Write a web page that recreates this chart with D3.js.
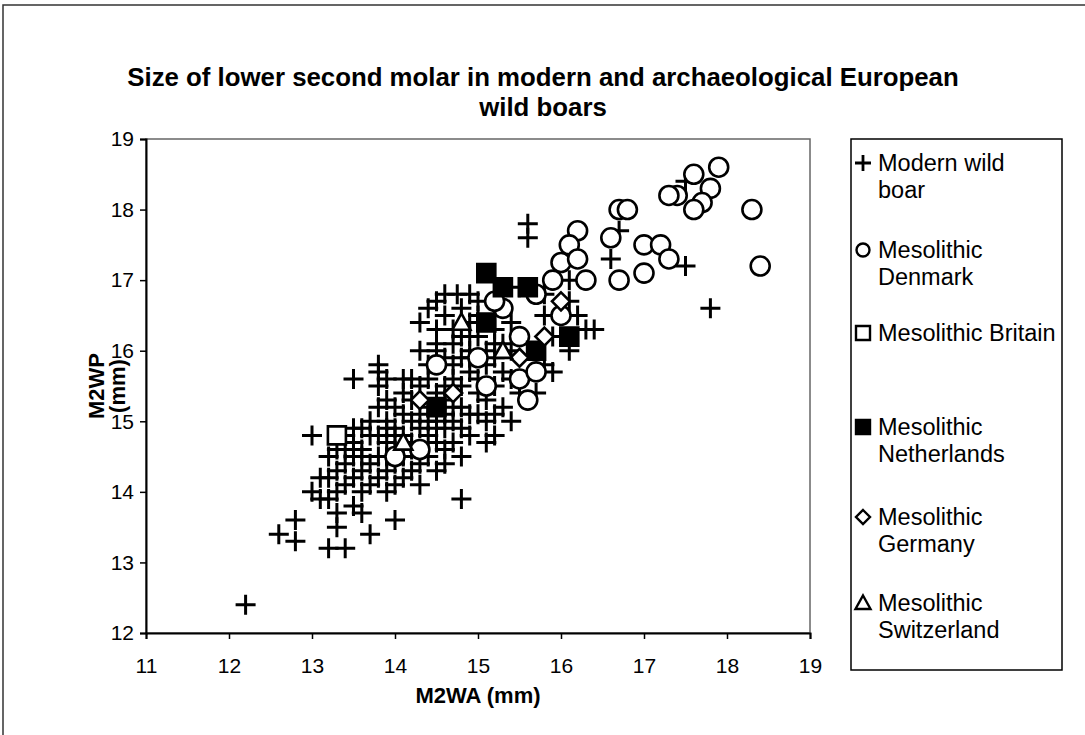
<!DOCTYPE html>
<head>
<style>
body { margin: 0; background: #fff; }
svg { font-family: "Liberation Sans", Arial, sans-serif; }
</style>
<script src="https://d3js.org/d3.v7.min.js"></script>
</head>
<body>
<svg id="chart" width="1085" height="735"></svg>
<script>

// tooth measurements, [M2WA, M2WP] in mm
var modernBoar = [
  [12.2,12.4],[12.6,13.4],[12.8,13.3],[12.8,13.6],[13.2,13.2],[13.4,13.2],[13.3,13.5],[13.7,13.4],
  [13.3,13.7],[13.6,13.7],[13.5,13.8],[14.0,13.6],[13.1,13.9],[13.2,13.9],[14.8,13.9],
  [13.0,14.0],[13.3,14.0],[13.6,14.0],[13.9,14.0],[13.4,14.1],[13.7,14.1],[14.0,14.1],[14.3,14.1],
  [13.1,14.2],[13.2,14.2],[13.5,14.2],[13.8,14.2],[14.1,14.2],[13.3,14.3],[13.6,14.3],[13.9,14.3],
  [14.2,14.3],[14.5,14.3],[13.4,14.4],[13.7,14.4],[14.0,14.4],[14.3,14.4],[14.6,14.4],
  [13.2,14.5],[13.5,14.5],[13.8,14.5],[14.1,14.5],[14.4,14.5],[14.8,14.5],[13.3,14.6],[13.6,14.6],
  [14.0,14.6],[14.3,14.6],[14.6,14.6],[13.5,14.7],[13.9,14.7],[14.2,14.7],[14.5,14.7],[14.7,14.7],
  [15.1,14.7],[13.0,14.8],[13.4,14.8],[13.8,14.8],[14.1,14.8],[14.4,14.8],[14.9,14.8],[15.2,14.8],
  [13.6,14.9],[14.0,14.9],[14.3,14.9],[14.6,14.9],[14.8,14.9],[13.7,15.0],[13.9,15.0],[14.2,15.0],
  [14.5,15.0],[14.7,15.0],[15.1,15.0],[15.4,15.0],[14.1,15.1],[14.3,15.1],[14.6,15.1],[14.9,15.1],
  [13.8,15.2],[14.0,15.2],[14.4,15.2],[14.8,15.2],[15.3,15.2],[13.9,15.3],[14.2,15.3],[14.6,15.3],
  [15.1,15.3],[14.1,15.4],[14.5,15.4],[15.0,15.4],[15.5,15.4],[15.7,15.4],[13.8,15.5],[14.3,15.5],
  [14.8,15.5],[15.2,15.5],[13.5,15.6],[13.9,15.6],[14.7,15.6],[15.0,15.6],[15.4,15.6],
  [13.8,15.7],[14.9,15.7],[15.3,15.7],[15.9,15.7],[13.8,15.8],[14.4,15.8],[15.1,15.8],[15.8,15.8],
  [14.8,15.9],[15.2,15.9],[14.5,16.0],[14.9,16.0],[15.4,16.0],[16.1,16.0],[14.5,16.1],[14.7,16.1],
  [15.3,16.1],[14.9,16.2],[15.0,16.2],[15.9,16.2],[14.5,16.3],[14.7,16.3],[15.2,16.3],[16.3,16.3],
  [16.4,16.3],[14.3,16.4],[14.9,16.4],[15.4,16.4],[14.6,16.5],[15.8,16.5],[16.2,16.5],
  [14.4,16.6],[14.8,16.6],[17.8,16.6],[14.5,16.7],[15.0,16.7],[16.1,16.7],[14.6,16.8],[14.75,16.8],
  [14.9,16.8],[15.8,16.8],[15.5,16.9],[15.9,17.0],[16.1,17.0],[17.5,17.2],[16.6,17.3],[15.6,17.6],
  [16.7,17.7],[15.6,17.8],[17.5,18.4],
  [14.6,15.5],[14.4,15.6],[14.2,15.6],[14.6,15.9],[14.3,16.0],[14.7,15.8],[15.0,16.5],[15.2,16.1],
  [14.8,16.2],[15.1,16.0],[13.9,14.9],[13.5,14.9],[13.4,14.6],[13.7,14.8],[14.2,14.6],[14.5,14.9],
  [14.0,14.8],[13.9,14.5],[13.6,14.5],[14.4,15.0],[14.7,15.2],[15.0,15.1],[14.1,15.6],[14.9,15.9],
  [15.2,15.1]
];
var denmark = [
  [17.9,18.6],[17.6,18.5],[17.8,18.3],[17.7,18.1],[17.6,18.0],[17.4,18.2],[17.3,18.2],[16.7,18.0],
  [16.8,18.0],[18.3,18.0],[18.4,17.2],[17.0,17.5],[17.2,17.5],[17.3,17.3],[17.0,17.1],[16.7,17.0],
  [16.6,17.6],[16.2,17.7],[16.1,17.5],[16.0,17.25],[16.2,17.3],[16.3,17.0],[15.9,17.0],[16.0,16.5],
  [15.7,16.8],[15.3,16.6],[15.2,16.7],[15.5,16.2],[15.0,15.9],[14.5,15.8],[15.1,15.5],[15.5,15.6],
  [15.7,15.7],[15.6,15.3],[14.3,14.6],[14.0,14.5]
];
var britain = [[13.3,14.8]];
var netherlands = [[15.1,17.1],[15.3,16.9],[15.6,16.9],[15.1,16.4],[15.7,16.0],[16.1,16.2],[14.5,15.2]];
var germany = [[16.0,16.7],[15.8,16.2],[15.5,15.9],[14.7,15.4],[14.3,15.3]];
var switzerland = [[14.8,16.4],[15.3,16.0],[14.1,14.7]];

var xTicks = [11, 12, 13, 14, 15, 16, 17, 18, 19];
var yTicks = [12, 13, 14, 15, 16, 17, 18, 19];

var titleLines = ["Size of lower second molar in modern and archaeological European", "wild boars"];
var legendNames = [["Modern wild", "boar"], ["Mesolithic", "Denmark"], ["Mesolithic Britain"],
  ["Mesolithic", "Netherlands"], ["Mesolithic", "Germany"], ["Mesolithic", "Switzerland"]];

var svg = d3.select("#chart");

var plot = {left: 146, right: 810, top: 139, bottom: 633};

var x = d3.scaleLinear().domain([11, 19]).range([plot.left, plot.right]);
var y = d3.scaleLinear().domain([12, 19]).range([plot.bottom, plot.top]);

// marker shapes as path strings centred on 0,0
var shapes = {
  plus: function(s) { return "M" + (-s) + ",0H" + s + "M0," + (-s) + "V" + s; },
  circle: function(s) { return "M" + s + ",0A" + s + "," + s + " 0 1,1 " + (-s) + ",0A" + s + "," + s + " 0 1,1 " + s + ",0Z"; },
  square: function(s) { return "M" + (-s) + "," + (-s) + "H" + s + "V" + s + "H" + (-s) + "Z"; },
  diamond: function(s) { return "M0," + (-s) + "L" + s + ",0L0," + s + "L" + (-s) + ",0Z"; },
  triangle: function(s) { return "M0," + (-s) + "L" + s + "," + (s * 0.8) + "L" + (-s) + "," + (s * 0.8) + "Z"; }
};

var series = [
  {data: modernBoar, shape: "plus", size: 10, legendSize: 8, fill: "none", width: 3},
  {data: denmark, shape: "circle", size: 9.5, legendSize: 6.5, fill: "#fff", width: 2.6},
  {data: britain, shape: "square", size: 9, legendSize: 7, fill: "#fff", width: 2.6},
  {data: netherlands, shape: "square", size: 9, legendSize: 7, fill: "#000", width: 2.6},
  {data: germany, shape: "diamond", size: 9, legendSize: 7, fill: "#fff", width: 2.6},
  {data: switzerland, shape: "triangle", size: 9, legendSize: 7.5, fill: "#fff", width: 2.6}
];

// outer chart frame
svg.append("path")
  .attr("d", "M3,735V5H1085")
  .attr("fill", "none")
  .attr("stroke", "#333")
  .attr("stroke-width", 1.5);

// plot frame
svg.append("rect")
  .attr("x", plot.left).attr("y", plot.top)
  .attr("width", plot.right - plot.left).attr("height", plot.bottom - plot.top)
  .attr("fill", "none")
  .attr("stroke", "#666")
  .attr("stroke-width", 1.5);

var xAxis = svg.append("g")
  .attr("transform", "translate(0," + plot.bottom + ")")
  .call(d3.axisBottom(x).tickValues(xTicks).tickFormat(d3.format("d")).tickSize(6).tickPadding(19));

var yAxis = svg.append("g")
  .attr("transform", "translate(" + plot.left + ",0)")
  .call(d3.axisLeft(y).tickValues(yTicks).tickFormat(d3.format("d")).tickSize(6).tickPadding(6));

[xAxis, yAxis].forEach(function(a) {
  a.select(".domain").attr("stroke", "#000").attr("stroke-width", 2);
  a.selectAll(".tick line").attr("stroke", "#000").attr("stroke-width", 1.5);
  a.selectAll(".tick text").attr("fill", "#000").style("font-size", "21px");
});

// markers, series drawn in order so later ones sit on top
series.forEach(function(s) {
  svg.append("g")
    .selectAll("path")
    .data(s.data)
    .enter().append("path")
    .attr("transform", function(d) { return "translate(" + x(d[0]) + "," + y(d[1]) + ")"; })
    .attr("d", shapes[s.shape](s.size))
    .attr("fill", s.fill)
    .attr("stroke", "#000")
    .attr("stroke-width", s.width);
});

// title
svg.append("g").selectAll("text")
  .data(titleLines)
  .enter().append("text")
  .attr("x", 543)
  .attr("y", function(d, i) { return 86 + i * 30; })
  .attr("text-anchor", "middle")
  .style("font-size", "25.8px")
  .style("font-weight", "bold")
  .text(function(d) { return d; });

// axis titles
svg.append("text")
  .attr("x", (plot.left + plot.right) / 2)
  .attr("y", 703)
  .attr("text-anchor", "middle")
  .style("font-size", "22px")
  .style("font-weight", "bold")
  .text("M2WA (mm)");

svg.append("g")
  .attr("transform", "translate(104," + ((plot.top + plot.bottom) / 2) + ") rotate(-90)")
  .selectAll("text")
  .data(["M2WP", "(mm)"])
  .enter().append("text")
  .attr("x", 0)
  .attr("y", function(d, i) { return i * 21; })
  .attr("text-anchor", "middle")
  .style("font-size", "22px")
  .style("font-weight", "bold")
  .text(function(d) { return d; });

// legend
var legend = {left: 851, right: 1062, top: 139, bottom: 670};
svg.append("rect")
  .attr("x", legend.left).attr("y", legend.top)
  .attr("width", legend.right - legend.left).attr("height", legend.bottom - legend.top)
  .attr("fill", "#fff")
  .attr("stroke", "#000")
  .attr("stroke-width", 1.5);

var legendRows = [163, 250, 333, 427, 517, 603];

var item = svg.append("g").selectAll("g")
  .data(series)
  .enter().append("g")
  .attr("transform", function(d, i) { return "translate(" + (legend.left + 12) + "," + legendRows[i] + ")"; });

item.append("path")
  .attr("d", function(d) { return shapes[d.shape](d.legendSize); })
  .attr("fill", function(d) { return d.fill; })
  .attr("stroke", "#000")
  .attr("stroke-width", function(d) { return d.shape == "plus" ? 2.8 : 2.4; });

item.selectAll("text")
  .data(function(d, i) { return legendNames[i]; })
  .enter().append("text")
  .attr("x", 15)
  .attr("y", function(d, i) { return i * 27 + 8; })
  .style("font-size", "23.5px")
  .text(function(d) { return d; });

</script>
</body>
</html>
